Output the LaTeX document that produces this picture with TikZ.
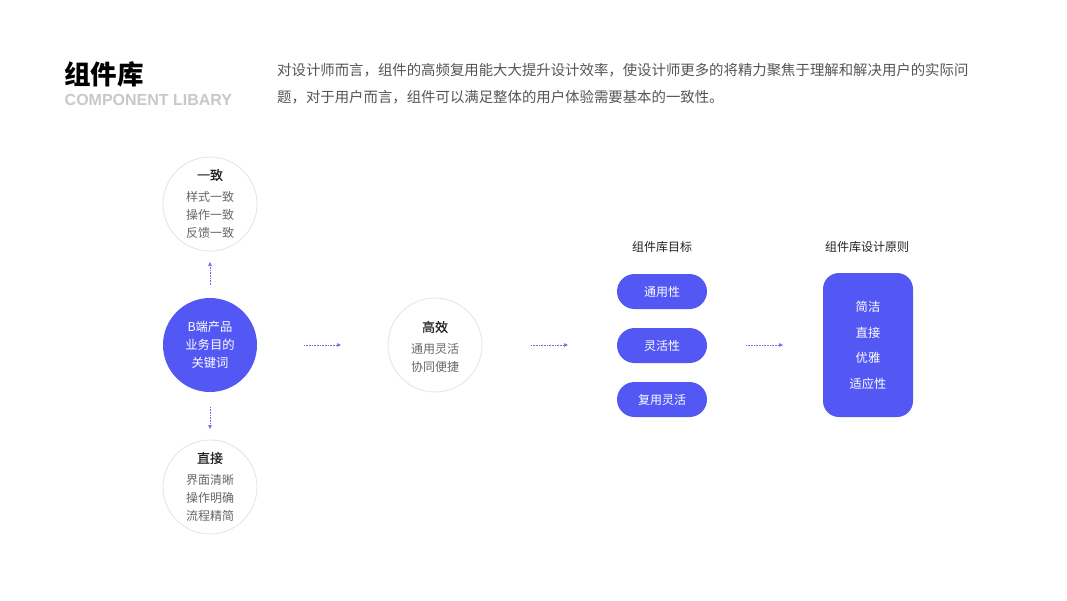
\documentclass[tikz,border=0pt]{standalone}
\usepackage{fontspec}
\setmainfont{Noto Sans CJK SC}
\newfontfamily\latinbold{Liberation Sans}
\newfontfamily\cjkmed[FakeBold=0.3]{Noto Sans CJK SC}
\usetikzlibrary{arrows.meta}
\definecolor{mainblue}{HTML}{5358F4}
\definecolor{ringgray}{HTML}{E4E4E4}
\definecolor{subgray}{HTML}{666666}
\definecolor{darktxt}{HTML}{222222}
\definecolor{paragray}{HTML}{555555}
\definecolor{lightgray}{HTML}{C8C8C8}
\definecolor{dotblue}{HTML}{6A6EF2}
\tikzset{
  ring/.style={circle, draw=ringgray, line width=0.8pt, minimum size=94pt, inner sep=0pt},
  bluecirc/.style={circle, fill=mainblue, minimum size=94pt, inner sep=0pt},
  ttl/.style={font=\cjkmed\fontsize{13}{15}\selectfont, text=darktxt, inner sep=0pt},
  sub/.style={font=\fontsize{12}{14}\selectfont, text=subgray, inner sep=0pt},
  wtxt/.style={font=\fontsize{12.3}{14}\selectfont, text=white, inner sep=0pt},
  pill/.style={rounded corners=17.5pt, fill=mainblue, minimum width=90pt, minimum height=35pt, inner sep=0pt, font=\fontsize{12}{14}\selectfont, text=white},
  flow/.style={densely dotted, draw=dotblue, line width=0.6pt, -{Triangle[length=4pt,width=3.5pt]}},
  hdr/.style={font=\fontsize{12}{14}\selectfont, text=darktxt, inner sep=0pt},
  para/.style={font=\fontsize{14.4}{16}\selectfont, text=paragray, inner sep=0pt, anchor=west},
}
\begin{document}
\begin{tikzpicture}[x=1pt,y=-1pt]
\useasboundingbox[fill=white] (0,0) rectangle (1067,600);
% header
\node[anchor=west, inner sep=0pt, font=\fontsize{26.5}{28}\selectfont\bfseries] (title) at (64,74) {组件库};
\node[anchor=west, inner sep=0pt, font=\latinbold\bfseries\fontsize{16}{18}\selectfont, text=lightgray] (subtitle) at (64.5,99.5) {COMPONENT LIBARY};
\node[para] (p1) at (277,70) {对设计师而言，组件的高频复用能大大提升设计效率，使设计师更多的将精力聚焦于理解和解决用户的实际问};
\node[para] (p2) at (277,97) {题，对于用户而言，组件可以满足整体的用户体验需要基本的一致性。};
% circles
\node[ring] (top) at (210,204) {};
\node[ttl] (topt) at (210,175) {一致};
\node[sub] (topa) at (210,197) {样式一致};
\node[sub] (topb) at (210,215) {操作一致};
\node[sub] (topc) at (210,233) {反馈一致};

\node[bluecirc] (core) at (210,345) {};
\node[wtxt] (corea) at (210,327) {B端产品};
\node[wtxt] (coreb) at (210,345) {业务目的};
\node[wtxt] (corec) at (210,363) {关键词};

\node[ring] (bot) at (210,487) {};
\node[ttl] (bott) at (210,458) {直接};
\node[sub] (bota) at (210,480) {界面清晰};
\node[sub] (botb) at (210,498) {操作明确};
\node[sub] (botc) at (210,516) {流程精简};

\node[ring] (mid) at (435,345) {};
\node[ttl] (midt) at (435,327) {高效};
\node[sub] (mida) at (435,349) {通用灵活};
\node[sub] (midb) at (435,367) {协同便捷};

% goals
\node[hdr] (goalh) at (662,247) {组件库目标};
\node[pill] (g1) at (662,291.5) {通用性};
\node[pill] (g2) at (662,345.5) {灵活性};
\node[pill] (g3) at (662,399.5) {复用灵活};

% principles
\node[hdr] (prinh) at (867,247) {组件库设计原则};
\node[rounded corners=16pt, fill=mainblue, minimum width=90pt, minimum height=144pt, inner sep=0pt] (prin) at (868,345) {};
\node[wtxt] (pa) at (868,307) {简洁};
\node[wtxt] (pb) at (868,333) {直接};
\node[wtxt] (pc) at (868,358) {优雅};
\node[wtxt] (pd) at (868,384) {适应性};

% connectors
\coordinate (u1) at (210,285); \coordinate (u2) at (210,262);
\coordinate (d1) at (210,407); \coordinate (d2) at (210,429);
\coordinate (r1) at (304,345); \coordinate (r2) at (341,345);
\coordinate (s1) at (531,345); \coordinate (s2) at (568,345);
\coordinate (t1) at (746,345); \coordinate (t2) at (783,345);
\draw[flow] (u1) -- (u2);
\draw[flow] (d1) -- (d2);
\draw[flow] (r1) -- (r2);
\draw[flow] (s1) -- (s2);
\draw[flow] (t1) -- (t2);
\end{tikzpicture}
\end{document}
